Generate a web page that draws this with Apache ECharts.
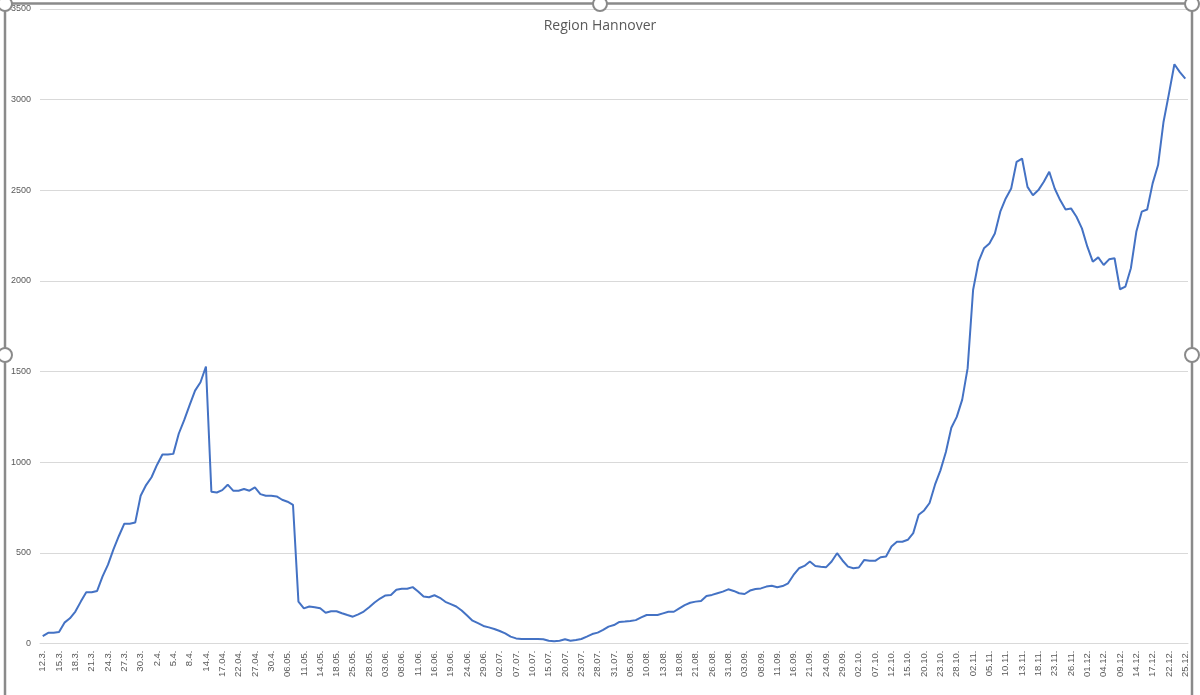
<!DOCTYPE html>
<html>
<head>
<meta charset="utf-8">
<script src="https://cdn.jsdelivr.net/npm/echarts@6/dist/echarts.min.js"></script>
<style>
html,body{margin:0;padding:0;background:#fff;}
#chart{width:1200px;height:695px;}
</style>
</head>
<body>
<div id="chart"></div>
<script>
// Tick labels shown on the category axis (one every third data point)
var tickLabels = ['12.3.','15.3.','18.3.','21.3.','24.3.','27.3.','30.3.','2.4.','5.4.','8.4.',
  '14.4.','17.04.','22.04.','27.04.','30.4.','06.05.','11.05.','14.05.','18.05.','25.05.',
  '28.05.','03.06.','08.06.','11.06.','16.06.','19.06.','24.06.','29.06.','02.07.','07.07.',
  '10.07.','15.07.','20.07.','23.07.','28.07.','31.07.','05.08.','10.08.','13.08.','18.08.',
  '21.08.','26.08.','31.08.','03.09.','08.09.','11.09.','16.09.','21.09.','24.09.','29.09.',
  '02.10.','07.10.','12.10.','15.10.','20.10.','23.10.','28.10.','02.11.','05.11.','10.11.',
  '13.11.','18.11.','23.11.','26.11.','01.12.','04.12.','09.12.','14.12.','17.12.','22.12.','25.12.'];

// Case counts, Region Hannover
var cases = [
  41, 59, 59, 63, 115, 139, 176, 231, 283, 283,
  290, 370, 435, 519, 593, 661, 661, 667, 815, 874,
  917, 985, 1043, 1043, 1046, 1157, 1232, 1315, 1395, 1441,
  1528, 837, 833, 846, 876, 843, 843, 852, 843, 861,
  824, 815, 815, 811, 793, 782, 765, 231, 194, 204,
  200, 194, 170, 178, 178, 167, 157, 148, 161, 176,
  200, 226, 248, 265, 268, 296, 302, 302, 311, 287,
  259, 255, 266, 252, 230, 217, 204, 182, 154, 126,
  112, 97, 89, 80, 69, 56, 38, 28, 25, 25,
  25, 25, 23, 15, 13, 15, 23, 15, 19, 25,
  38, 52, 60, 75, 93, 102, 119, 121, 124, 129,
  144, 157, 157, 157, 166, 175, 175, 194, 212, 225,
  231, 234, 262, 268, 277, 286, 299, 290, 277, 273,
  292, 301, 304, 314, 319, 310, 317, 332, 378, 415,
  428, 452, 428, 424, 421, 452, 498, 458, 424, 415,
  419, 461, 456, 456, 476, 480, 535, 561, 561, 572,
  609, 710, 734, 775, 876, 955, 1056, 1190, 1250, 1345,
  1519, 1950, 2106, 2180, 2207, 2262, 2382, 2455, 2510, 2657,
  2675, 2519, 2473, 2501, 2547, 2602, 2510, 2446, 2394, 2400,
  2354, 2290, 2189, 2106, 2130, 2088, 2119, 2125, 1954, 1969,
  2070, 2271, 2382, 2394, 2538, 2639, 2877, 3033, 3195, 3152, 3116
];

// Full category list: labelled day followed by two unlabelled days
var categories = [];
for (var k = 0; k < tickLabels.length; k++) {
  categories.push(tickLabels[k]);
  if (k < tickLabels.length - 1) { categories.push(''); categories.push(''); }
}

var chart = echarts.init(document.getElementById('chart'), null, {renderer: 'canvas'});
var frameColor = '#8a8a8a';
chart.setOption({
  backgroundColor: '#ffffff',
  animation: false,
  title: {
    text: 'Region Hannover',
    left: 'center',
    top: 14,
    textStyle: {fontFamily: 'Open Sans', fontSize: 14, fontWeight: 'normal', color: '#595959'}
  },
  grid: {left: 40, right: 12, top: 9, bottom: 51.5, containLabel: false},
  xAxis: {
    type: 'category',
    data: categories,
    boundaryGap: true,
    axisLine: {show: true, lineStyle: {color: '#d9d9d9', width: 1}},
    axisTick: {show: false},
    axisLabel: {
      interval: 2,
      rotate: 90,
      margin: 7,
      fontFamily: 'Liberation Sans',
      fontSize: 9.5,
      color: '#595959'
    }
  },
  yAxis: {
    type: 'value',
    min: 0,
    max: 3500,
    interval: 500,
    axisLine: {show: false},
    axisTick: {show: false},
    axisLabel: {
      margin: 9,
      fontFamily: 'Liberation Sans',
      fontSize: 9,
      color: '#595959',
      formatter: function (v) { return String(v); }
    },
    splitLine: {lineStyle: {color: '#d9d9d9', width: 1}}
  },
  series: [{
    type: 'line',
    data: cases,
    showSymbol: false,
    symbol: 'none',
    lineStyle: {color: '#4472C4', width: 2},
    z: 3
  }],
  graphic: [
    {type: 'rect', shape: {x: 5, y: 3.5, width: 1187, height: 720},
     style: {fill: 'none', stroke: frameColor, lineWidth: 2.5}, silent: true, z: 100},
    {type: 'circle', shape: {cx: 5, cy: 4, r: 7}, style: {fill: '#fff', stroke: frameColor, lineWidth: 2}, z: 101},
    {type: 'circle', shape: {cx: 600, cy: 4, r: 7}, style: {fill: '#fff', stroke: frameColor, lineWidth: 2}, z: 101},
    {type: 'circle', shape: {cx: 1192, cy: 4, r: 7}, style: {fill: '#fff', stroke: frameColor, lineWidth: 2}, z: 101},
    {type: 'circle', shape: {cx: 5, cy: 355, r: 7}, style: {fill: '#fff', stroke: frameColor, lineWidth: 2}, z: 101},
    {type: 'circle', shape: {cx: 1192, cy: 355, r: 7}, style: {fill: '#fff', stroke: frameColor, lineWidth: 2}, z: 101}
  ]
});
</script>
</body>
</html>
